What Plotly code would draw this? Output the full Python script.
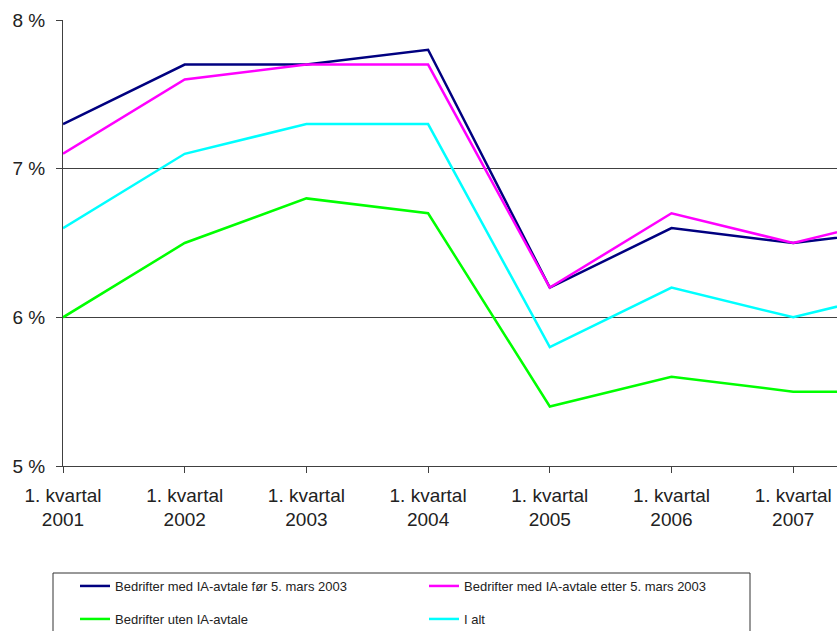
import plotly.graph_objects as go

categories = ["1. kvartal<br>2001", "1. kvartal<br>2002", "1. kvartal<br>2003", "1. kvartal<br>2004",
              "1. kvartal<br>2005", "1. kvartal<br>2006", "1. kvartal<br>2007", "1. kvartal<br>2008"]
line1 = [c.split("<br>")[0] for c in categories]
line2 = [c.split("<br>")[1] for c in categories]

s_for = [7.3, 7.7, 7.7, 7.8, 6.2, 6.6, 6.5, 6.6]
s_etter = [7.1, 7.6, 7.7, 7.7, 6.2, 6.7, 6.5, 6.7]
s_uten = [6.0, 6.5, 6.8, 6.7, 5.4, 5.6, 5.5, 5.5]
s_alt = [6.6, 7.1, 7.3, 7.3, 5.8, 6.2, 6.0, 6.2]

names = ["Bedrifter med IA-avtale før 5. mars 2003", "Bedrifter med IA-avtale etter 5. mars 2003",
         "Bedrifter uten IA-avtale", "I alt"]
colors = ["#000080", "#FF00FF", "#00FF00", "#00FFFF"]
series = [s_for, s_etter, s_uten, s_alt]
legends = ["legend", "legend", "legend2", "legend2"]

xs = list(range(len(categories)))
FONT = "Liberation Sans, Arial, sans-serif"

fig = go.Figure()
for name, col, vals, lg in zip(names, colors, series, legends):
    fig.add_trace(go.Scatter(x=xs, y=vals, mode="lines", name=name,
                             line=dict(color=col, width=2.5), legend=lg))

# invisible trace to activate second x axis for the year labels
fig.add_trace(go.Scatter(x=xs, y=s_alt, xaxis="x2", mode="lines",
                         line=dict(width=0), showlegend=False, hoverinfo="skip", opacity=0))

W, H = 837, 631
L, R, T, B = 63, 0, 20, 165
pw, ph = W - L - R, H - T - B
px_per_cat = 121.7
xmax = pw / px_per_cat

def py(y):
    return (H - B - y) / ph

def pxx(x):
    return (x - L) / pw

fig.update_layout(
    width=W, height=H,
    margin=dict(l=L, r=R, t=T, b=B, autoexpand=False),
    paper_bgcolor="white", plot_bgcolor="white",
    font=dict(family=FONT, color="#222222", size=19),
    xaxis=dict(range=[0, xmax], tickmode="array", tickvals=xs, ticktext=line1,
               showgrid=False, zeroline=False, showline=True, linecolor="#404040", linewidth=1,
               ticks="outside", ticklen=6, tickcolor="#404040", tickangle=0,
               tickfont=dict(size=19, color="#222222"), ticklabelstandoff=6),
    xaxis2=dict(range=[0, xmax], overlaying="x", side="bottom", anchor="y",
                tickmode="array", tickvals=xs, ticktext=line2,
                showgrid=False, zeroline=False, showline=False, ticks="",
                tickfont=dict(size=19, color="#222222"), ticklabelstandoff=40, tickangle=0),
    yaxis=dict(range=[5, 8], tickvals=[5, 6, 7, 8], ticktext=["5 %", "6 %", "7 %", "8 %"],
               showgrid=True, gridcolor="#404040", gridwidth=1, zeroline=False,
               showline=True, linecolor="#404040", linewidth=1,
               ticks="outside", ticklen=6, tickcolor="#404040",
               tickfont=dict(size=19, color="#222222"), ticklabelstandoff=7),
    legend=dict(orientation="h", x=pxx(75), xanchor="left", y=py(571), yanchor="top",
                entrywidth=304, entrywidthmode="pixels", itemwidth=30,
                font=dict(size=13, color="#222222", family=FONT),
                bgcolor="rgba(0,0,0,0)", borderwidth=0),
    legend2=dict(orientation="h", x=pxx(75), xanchor="left", y=py(604), yanchor="top",
                 entrywidth=304, entrywidthmode="pixels", itemwidth=30,
                 font=dict(size=13, color="#222222", family=FONT),
                 bgcolor="rgba(0,0,0,0)", borderwidth=0),
    shapes=[dict(type="rect", xref="paper", yref="paper",
                 x0=pxx(53), x1=pxx(750), y0=py(573), y1=py(700),
                 line=dict(color="#333333", width=1), fillcolor="rgba(0,0,0,0)", layer="below")],
    showlegend=True,
)

fig.write_html("out.html")
